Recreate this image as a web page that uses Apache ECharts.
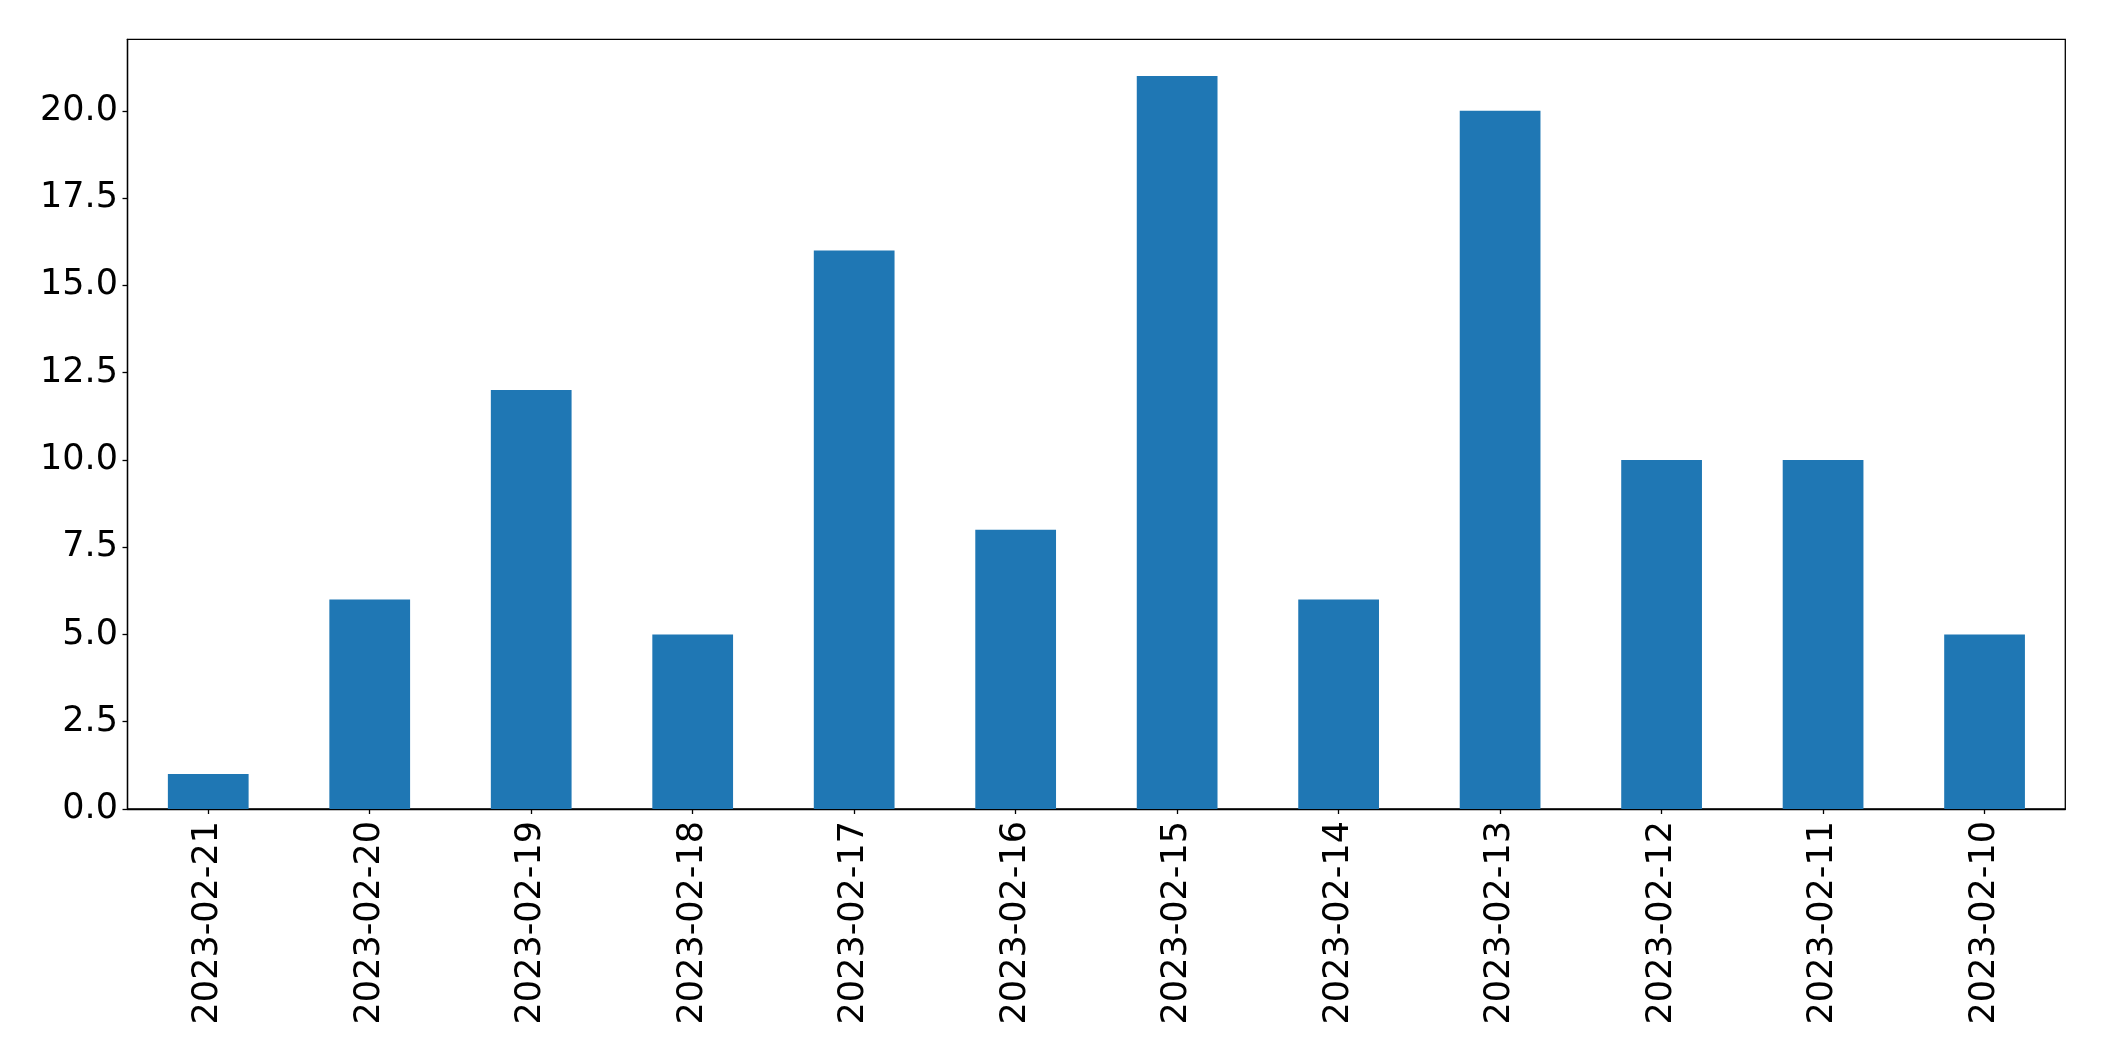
<!DOCTYPE html>
<html>
<head>
<meta charset="utf-8">
<script src="https://cdn.jsdelivr.net/npm/echarts@6/dist/echarts.min.js"></script>
<style>
html,body{margin:0;padding:0;background:#fff;}
#chart{width:2104px;height:1061px;}
</style>
</head>
<body>
<div id="chart"></div>
<script>
const categories = ['2023-02-21','2023-02-20','2023-02-19','2023-02-18','2023-02-17','2023-02-16','2023-02-15','2023-02-14','2023-02-13','2023-02-12','2023-02-11','2023-02-10'];
const values = [1, 6, 12, 5, 16, 8, 21, 6, 20, 10, 10, 5];
const yTicks = [0, 2.5, 5, 7.5, 10, 12.5, 15, 17.5, 20];

const chart = echarts.init(document.getElementById('chart'));
chart.setOption({
  backgroundColor: '#ffffff',
  animation: false,
  grid: {
    left: 127.5, top: 39.3, right: 38.7, bottom: 252,
    show: true, borderColor: '#000', borderWidth: 1.3, backgroundColor: 'transparent'
  },
  xAxis: {
    type: 'category',
    data: categories,
    boundaryGap: true,
    axisLine: { show: true, lineStyle: { color: '#000', width: 1.3 } },
    axisTick: { show: true, alignWithLabel: true, length: 5, lineStyle: { color: '#000', width: 1.3 } },
    axisLabel: {
      rotate: 90, margin: 12, color: '#000',
      fontFamily: 'DejaVu Sans', fontSize: 35, interval: 0
    },
    splitLine: { show: false }
  },
  yAxis: {
    type: 'value',
    min: 0, max: 22.05, interval: 2.5,
    axisLine: { show: true, lineStyle: { color: '#000', width: 1.3 } },
    axisTick: { show: true, length: 5, customValues: yTicks, lineStyle: { color: '#000', width: 1.3 } },
    axisLabel: {
      customValues: yTicks,
      margin: 9.5, color: '#000', fontFamily: 'DejaVu Sans', fontSize: 35,
      formatter: v => Number(v).toFixed(1)
    },
    splitLine: { show: false }
  },
  series: [{
    type: 'bar',
    data: values,
    barWidth: '50%',
    itemStyle: { color: '#1f77b4' }
  }]
});
</script>
</body>
</html>
